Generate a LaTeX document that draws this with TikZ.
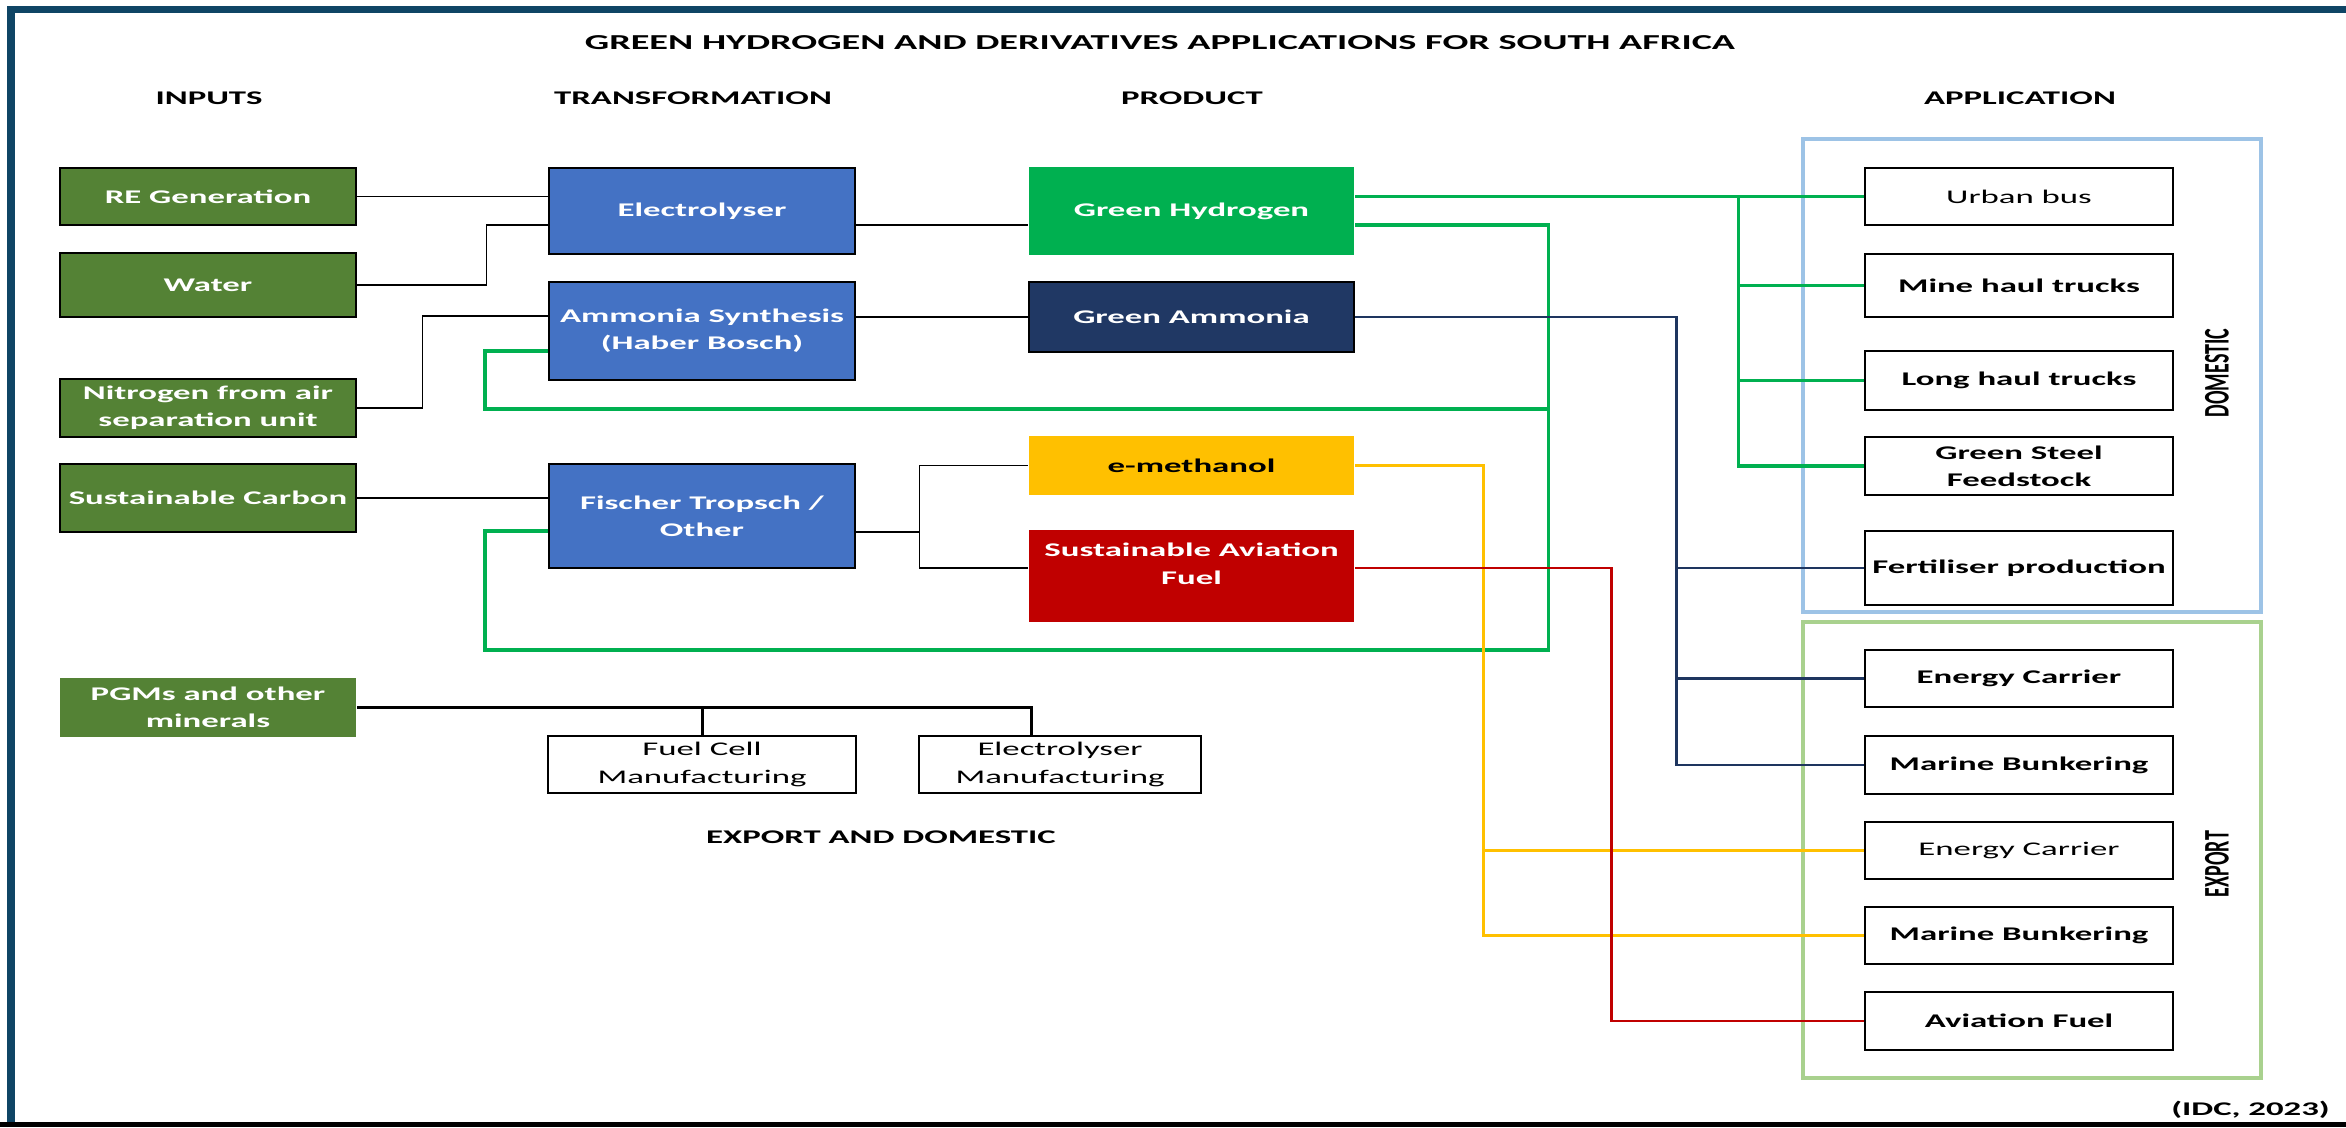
\documentclass[tikz,border=0pt]{standalone}
\usepackage{fontspec}
\setmainfont{Carlito}[FakeStretch=1.8]
\newfontfamily\uprightfont{Carlito}
\usepackage{graphicx}
\usepackage{tikz}
\usetikzlibrary{calc}
\definecolor{frameblue}{HTML}{0F4565}
\definecolor{inputgreen}{HTML}{548235}
\definecolor{trblue}{HTML}{4472C4}
\definecolor{hgreen}{HTML}{00B050}
\definecolor{navy}{HTML}{203864}
\definecolor{mgold}{HTML}{FFC000}
\definecolor{safred}{HTML}{C00000}
\definecolor{domblue}{HTML}{9DC3E6}
\definecolor{expgreen}{HTML}{A9D18E}

\begin{document}
\begin{tikzpicture}[x=0.02cm, y=-0.02cm,
		txt/.style={font=\fontsize{11}{15.5}\selectfont\bfseries},
		lighttext/.style={font=\fontsize{11}{15.5}\selectfont},
		box/.style={txt, draw=black, line width=1.5pt, align=center, inner sep=2pt},
		inbox/.style={box, fill=inputgreen, text=white, minimum width=5.92cm},
		trbox/.style={box, fill=trblue, text=white, minimum width=6.12cm},
		prbox/.style={box, draw=none, text=white, minimum width=6.5cm},
		apbox/.style={box, fill=white, minimum width=6.16cm},
		link/.style={line width=0.7pt, black},
		h2link/.style={line width=1.8pt, hgreen},
		nh3link/.style={line width=1.5pt, navy!95!black},
		meohlink/.style={line width=1.6pt, mgold},
		saflink/.style={line width=1.5pt, safred}]
				\useasboundingbox (0,0) rectangle (2346,1127);
				
				% 外框
				\draw[frameblue, line width=4pt] (11,1127) -- (11,9.5) -- (2346,9.5);
				\draw[black, line width=2.8pt] (0,1124.5) -- (2346,1124.5);
				
				% 标题
				\node[font=\fontsize{12.1}{15}\selectfont\bfseries] (title) at (1160,43) {GREEN HYDROGEN AND DERIVATIVES APPLICATIONS FOR SOUTH AFRICA};
				\node[txt] (hin) at (209,98) {INPUTS};
				\node[txt] (htr) at (693,98) {TRANSFORMATION};
				\node[txt] (hpr) at (1192,98) {PRODUCT};
				\node[txt] (hap) at (2020,98) {APPLICATION};
				
				% 国内 / 出口 分组框
				\draw[domblue, line width=2.2pt] (1803,139) rectangle (2261,612);
				\draw[expgreen, line width=2.2pt] (1803,622) rectangle (2261,1078);
				\node[rotate=90, font=\uprightfont\fontsize{11.4}{13}\selectfont\bfseries] (dom) at (2217,373) {\scalebox{1}[1.8]{DOMESTIC}};
				\node[rotate=90, font=\uprightfont\fontsize{11.4}{13}\selectfont\bfseries] (exp) at (2217,864) {\scalebox{1}[1.8]{EXPORT}};
				
				% 输入
				\node[inbox, minimum height=1.14cm] (re) at (208,196.5) {RE Generation};
				\node[inbox, minimum height=1.28cm] (water) at (208,285) {Water};
				\node[inbox, minimum height=1.16cm] (nitro) at (208,408) {Nitrogen from air\\separation unit};
				\node[inbox, minimum height=1.36cm] (carbon) at (208,498) {Sustainable Carbon};
				\node[inbox, draw=none, minimum height=1.18cm] (pgm) at (208,707.5) {PGMs and other\\minerals};
				
				% 转化
				\node[trbox, minimum height=1.72cm] (elec) at (702,211) {Electrolyser};
				\node[trbox, minimum height=1.96cm] (ammo) at (702,331) {Ammonia Synthesis\\(Haber Bosch)};
				\node[trbox, minimum height=2.08cm] (ft) at (702,516) {Fischer Tropsch /\\Other};
				
				% 产品
				\node[prbox, fill=hgreen, minimum height=1.76cm] (gh2) at (1191.5,211) {Green Hydrogen};
				\node[prbox, draw=black, fill=navy, minimum height=1.40cm] (nh3) at (1191.5,317) {Green Ammonia};
				\node[prbox, fill=mgold, text=black, minimum height=1.18cm] (meoh) at (1191.5,465.5) {e-methanol};
				\node[prbox, fill=safred, minimum height=1.84cm, text depth=14pt] (saf) at (1191.5,576) {Sustainable Aviation\\Fuel};
				
				% 制造
				\node[apbox, lighttext, minimum height=1.14cm] (fc) at (702,764.5) {Fuel Cell\\Manufacturing};
				\node[apbox, lighttext, minimum width=5.64cm, minimum height=1.14cm] (em) at (1060,764.5) {Electrolyser\\Manufacturing};
				\node[txt] (expdom) at (881,837) {EXPORT AND DOMESTIC};
				
				% 应用
				\node[apbox, lighttext, minimum height=1.14cm] (bus) at (2019,196.5) {Urban bus};
				\node[apbox, minimum height=1.26cm] (mine) at (2019,285.5) {Mine haul trucks};
				\node[apbox, minimum height=1.18cm] (long) at (2019,380.5) {Long haul trucks};
				\node[apbox, minimum height=1.16cm] (steel) at (2019,466) {Green Steel\\Feedstock};
				\node[apbox, minimum height=1.48cm] (fert) at (2019,568) {Fertiliser production};
				\node[apbox, minimum height=1.14cm] (ec1) at (2019,678.5) {Energy Carrier};
				\node[apbox, minimum height=1.16cm] (mb1) at (2019,765) {Marine Bunkering};
				\node[apbox, lighttext, minimum height=1.14cm] (ec2) at (2019,850.5) {Energy Carrier};
				\node[apbox, minimum height=1.14cm] (mb2) at (2019,935.5) {Marine Bunkering};
				\node[apbox, minimum height=1.16cm] (av) at (2019,1021) {Aviation Fuel};
				
				\node[txt, anchor=east] (src) at (2336,1110) {(IDC, 2023)};
				
				% 输入到转化
				\draw[link] (re.east) -- (re.east -| elec.west);
				\draw[link] (water.east) -- ++(129,0) |- ($(elec.west)+(0,14)$);
				\draw[link] (nitro.east) -- ++(65,0) |- ($(ammo.west)+(0,-15)$);
				\draw[link] (carbon.east) -- (carbon.east -| ft.west);
				\draw[link] ($(elec.east)+(0,14)$) -- ($(gh2.west)+(0,14)$);
				\draw[link] (nh3.west -| ammo.east) -- (nh3.west);
				\draw[link] ($(ft.east)+(0,16)$) -- ++(63,0) coordinate (ftfork) |- (meoh.west);
				\draw[link] (ftfork) |- ($(saf.west)+(0,-8)$);
				
				% 贵金属
				\draw[line width=1.7pt] (pgm.east) -| ($(em.north)+(-29,0)$);
				\draw[line width=1.7pt] (fc.north) -- (fc.north |- pgm.east);
				
				% 绿氢回路
				\coordinate (h2loop) at ($(gh2.east)+(193,14)$);
				\coordinate (loopA) at (485,409);
				\coordinate (loopB) at (485,650);
				\draw[h2link] ($(gh2.east)+(0,14)$) -- (h2loop) |- (loopB) |- ($(ft.west)+(0,15)$);
				\draw[h2link] (h2loop |- loopA) -- (loopA) |- ($(ammo.west)+(0,20)$);
				
				% 绿氢应用
				\coordinate (h2fork) at ($(bus.west)+(-125,0)$);
				\draw[h2link] (gh2.east |- bus.west) -- (bus.west);
				\draw[h2link] (h2fork) |- (steel.west);
				\draw[h2link] (h2fork |- mine.west) -- (mine.west);
				\draw[h2link] (h2fork |- long.west) -- (long.west);
				
				% 绿氨
				\draw[nh3link] (nh3.east) -- ++(321,0) coordinate (nh3fork) |- (mb1.west);
				\draw[nh3link] (nh3fork |- fert.west) -- (fert.west);
				\draw[nh3link] (nh3fork |- ec1.west) -- (ec1.west);
				
				% 甲醇
				\draw[meohlink] (meoh.east) -- ++(128,0) coordinate (meohfork) |- (mb2.west);
				\draw[meohlink] (meohfork |- ec2.west) -- (ec2.west);
				
				% 航空燃料
				\draw[saflink] ($(saf.east)+(0,-8)$) -- ++(256,0) |- (av.west);
			\end{tikzpicture}
\end{document}
